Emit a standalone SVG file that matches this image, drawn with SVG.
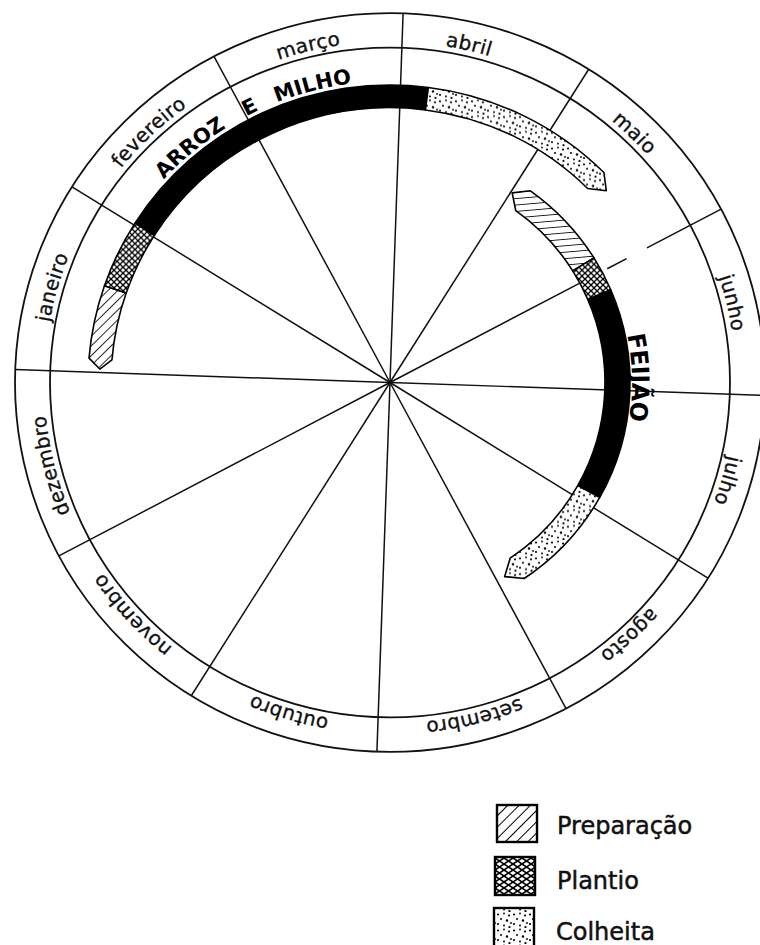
<svg xmlns="http://www.w3.org/2000/svg" xmlns:xlink="http://www.w3.org/1999/xlink" width="760" height="945" viewBox="0 0 760 945">
<style>
.ln{fill:none;stroke:#111;stroke-width:1.8}
.sp{stroke:#111;stroke-width:1.5}
.bd{stroke:#000;stroke-width:1.6;stroke-linejoin:round}
.mo{font-family:"DejaVu Sans","Liberation Sans",sans-serif;font-size:20px;fill:#111;stroke:#111;stroke-width:0.35px;letter-spacing:0.3px}
.cr{font-family:"DejaVu Sans","Liberation Sans",sans-serif;font-weight:bold;fill:#000}
.lg{font-family:"DejaVu Sans","Liberation Sans",sans-serif;font-size:24px;fill:#111;stroke:#111;stroke-width:0.5px}
.bx{stroke:#000;stroke-width:2.4}
</style>
<defs>
<pattern id="hatchA" width="7" height="7" patternUnits="userSpaceOnUse" patternTransform="rotate(45)">
<rect width="7" height="7" fill="#fff"/>
<line x1="0" y1="-1" x2="0" y2="8" stroke="#000" stroke-width="1.7"/>
</pattern>
<pattern id="hatchF" width="8" height="6.5" patternUnits="userSpaceOnUse" patternTransform="rotate(-5)">
<rect width="8" height="6.5" fill="#fff"/>
<line x1="-1" y1="0" x2="9" y2="0" stroke="#000" stroke-width="1.7"/>
</pattern>
<pattern id="hatchL" width="8" height="8" patternUnits="userSpaceOnUse" patternTransform="rotate(45)">
<rect width="8" height="8" fill="#fff"/>
<line x1="0" y1="-1" x2="0" y2="9" stroke="#000" stroke-width="2"/>
</pattern>
<pattern id="cross" width="6" height="6" patternUnits="userSpaceOnUse">
<rect width="6" height="6" fill="#fff"/>
<path d="M-1,-1 L7,7 M7,-1 L-1,7" stroke="#000" stroke-width="1.3"/>
</pattern>
<pattern id="crossL" width="9" height="6" patternUnits="userSpaceOnUse">
<rect width="9" height="6" fill="#fff"/>
<path d="M-1.5,-1 L10.5,7 M10.5,-1 L-1.5,7" stroke="#000" stroke-width="1.6"/>
</pattern>
<pattern id="dots" width="16" height="16" patternUnits="userSpaceOnUse">
<rect width="16" height="16" fill="#fff"/>
<g fill="#000">
<circle cx="2" cy="2.5" r="1.1"/><circle cx="8" cy="1.5" r="0.9"/><circle cx="13" cy="3.5" r="1.1"/>
<circle cx="5" cy="7" r="1"/><circle cx="11" cy="8.5" r="1.2"/><circle cx="15" cy="11" r="0.9"/>
<circle cx="2" cy="12" r="1.1"/><circle cx="8" cy="13.5" r="1"/><circle cx="13.5" cy="15" r="1.1"/>
</g>
</pattern>
<path id="tm" d="M0,-346 A346,346 0 1 1 0,346 A346,346 0 1 1 0,-346"/>
<path id="ta" d="M0,-306 A306,306 0 1 1 0,306 A306,306 0 1 1 0,-306"/>
<path id="tf" d="M0,-242 A242,242 0 1 1 0,242 A242,242 0 1 1 0,-242"/>
</defs>
<rect width="760" height="945" fill="#fff"/>
<g transform="translate(390 382.5) scale(1 0.985)">
<g id="connectors">
<line class="sp" x1="0" y1="0" x2="13.09" y2="-374.77"/>
<line class="sp" x1="0" y1="0" x2="198.72" y2="-318.02"/>
<line class="sp" x1="0" y1="0" x2="189.83" y2="-100.94"/>
<line class="sp" x1="217.21" y1="-115.49" x2="236.63" y2="-125.82"/>
<line class="sp" x1="256.94" y1="-136.62" x2="331.11" y2="-176.05"/>
<line class="sp" x1="0" y1="0" x2="374.77" y2="13.09"/>
<line class="sp" x1="0" y1="0" x2="318.02" y2="198.72"/>
<line class="sp" x1="0" y1="0" x2="176.05" y2="331.11"/>
<line class="sp" x1="0" y1="0" x2="-13.09" y2="374.77"/>
<line class="sp" x1="0" y1="0" x2="-198.72" y2="318.02"/>
<line class="sp" x1="0" y1="0" x2="-331.11" y2="176.05"/>
<line class="sp" x1="0" y1="0" x2="-374.77" y2="-13.09"/>
<line class="sp" x1="0" y1="0" x2="-318.02" y2="-198.72"/>
<line class="sp" x1="0" y1="0" x2="-176.05" y2="-331.11"/>
</g>
<g id="ring">
<circle class="ln" r="375"/>
<circle class="ln" r="340"/>
</g>
<g id="months">
<text class="mo"><textPath href="#tm" xlink:href="#tm" startOffset="96.25%" text-anchor="middle">março</textPath></text>
<text class="mo"><textPath href="#tm" xlink:href="#tm" startOffset="3.611%" text-anchor="middle">abril</textPath></text>
<text class="mo"><textPath href="#tm" xlink:href="#tm" startOffset="12.222%" text-anchor="middle">maio</textPath></text>
<text class="mo"><textPath href="#tm" xlink:href="#tm" startOffset="21.306%" text-anchor="middle">junho</textPath></text>
<text class="mo"><textPath href="#tm" xlink:href="#tm" startOffset="29.583%" text-anchor="middle">julho</textPath></text>
<text class="mo"><textPath href="#tm" xlink:href="#tm" startOffset="38.056%" text-anchor="middle">agosto</textPath></text>
<text class="mo"><textPath href="#tm" xlink:href="#tm" startOffset="46.111%" text-anchor="middle">setembro</textPath></text>
<text class="mo"><textPath href="#tm" xlink:href="#tm" startOffset="54.667%" text-anchor="middle">outubro</textPath></text>
<text class="mo"><textPath href="#tm" xlink:href="#tm" startOffset="63.194%" text-anchor="middle">novembro</textPath></text>
<text class="mo"><textPath href="#tm" xlink:href="#tm" startOffset="71.111%" text-anchor="middle">dezembro</textPath></text>
<text class="mo"><textPath href="#tm" xlink:href="#tm" startOffset="79.444%" text-anchor="middle">janeiro</textPath></text>
<text class="mo"><textPath href="#tm" xlink:href="#tm" startOffset="87.917%" text-anchor="middle">fevereiro</textPath></text>
</g>
<g id="arroz-milho">
<path class="bd" fill="url(#hatchA)" d="M-300.99,-24.75 A302,302 0 0 1 -285.55,-98.32 L-263.80,-90.83 A279,279 0 0 0 -278.06,-22.86 L-290.18,-13.69 Z"/>
<path class="bd" fill="url(#cross)" d="M-285.55,-98.32 A302,302 0 0 1 -254.99,-161.82 L-235.57,-149.50 A279,279 0 0 0 -263.80,-90.83 Z"/>
<path class="bd" fill="#000" d="M-254.99,-161.82 A302,302 0 0 1 38.37,-299.55 L35.45,-276.74 A279,279 0 0 0 -235.57,-149.50 Z"/>
<path class="bd" fill="url(#dots)" d="M38.37,-299.55 A302,302 0 0 1 213.92,-213.17 L216.25,-194.72 L197.63,-196.94 A279,279 0 0 0 35.45,-276.74 Z"/>
<text class="cr" font-size="21"><textPath href="#ta" xlink:href="#ta" startOffset="88.889%" text-anchor="middle">ARROZ</textPath></text>
<text class="cr" font-size="21" word-spacing="12"><textPath href="#ta" xlink:href="#ta" startOffset="95.111%" text-anchor="middle">E MILHO</textPath></text>
</g>
<g id="feijao">
<path class="bd" fill="url(#hatchF)" d="M125.77,-174.38 L122.17,-192.51 L140.39,-194.65 A240,240 0 0 1 203.97,-126.47 L182.73,-113.30 A215,215 0 0 0 125.77,-174.38 Z"/>
<path class="bd" fill="url(#cross)" d="M203.97,-126.47 A240,240 0 0 1 220.76,-94.16 L197.76,-84.35 A215,215 0 0 0 182.73,-113.30 Z"/>
<path class="bd" fill="#000" d="M220.76,-94.16 A240,240 0 0 1 209.71,116.71 L187.87,104.55 A215,215 0 0 0 197.76,-84.35 Z"/>
<path class="bd" fill="url(#dots)" d="M209.71,116.71 A240,240 0 0 1 134.21,198.97 L114.69,197.05 L120.23,178.24 A215,215 0 0 0 187.87,104.55 Z"/>
<text class="cr" font-size="24" letter-spacing="-0.4"><textPath href="#tf" xlink:href="#tf" startOffset="24.667%" text-anchor="middle">FEIJÃO</textPath></text>
</g>
</g>
<g id="legend">
<g id="legend-preparacao">
<rect class="bx" x="497" y="805" width="40" height="37" fill="url(#hatchL)"/>
<text class="lg" x="557" y="834">Preparação</text>
</g>
<g id="legend-plantio">
<rect class="bx" x="495" y="857" width="40" height="38" fill="url(#crossL)"/>
<text class="lg" x="557" y="889">Plantio</text>
</g>
<g id="legend-colheita">
<rect class="bx" x="494" y="908" width="40" height="40" fill="url(#dots)"/>
<text class="lg" x="556" y="940">Colheita</text>
</g>
</g>
</svg>
